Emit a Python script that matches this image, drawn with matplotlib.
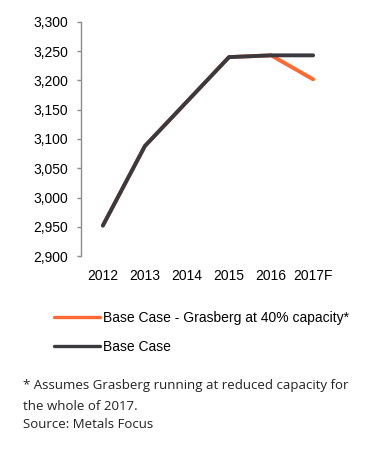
import matplotlib
matplotlib.use('Agg')
import matplotlib.pyplot as plt

years = ['2012', '2013', '2014', '2015', '2016', '2017F']
base_case = [2952, 3088, 3164, 3240, 3243, 3243]
grasberg_case = [2952, 3088, 3164, 3240, 3243, 3202]

orange = '#FF6A33'
dark = '#3A3940'

plt.rcParams['font.family'] = ['Liberation Sans', 'DejaVu Sans']

fig = plt.figure(figsize=(3.67, 4.54), dpi=100)
ax = fig.add_axes([81/367, (454-256)/454, 254/367, 234/454])

x = list(range(len(years)))
ax.plot(x, grasberg_case, color=orange, linewidth=2.8, solid_capstyle='round',
        label='Base Case - Grasberg at 40% capacity*')
ax.plot(x, base_case, color=dark, linewidth=2.8, solid_capstyle='round',
        label='Base Case')

ax.set_xlim(-0.52, 5.52)
ax.set_ylim(2900, 3300)
ax.set_yticks(range(2900, 3301, 50))
ax.set_yticklabels(['{:,}'.format(v) for v in range(2900, 3301, 50)])
ax.set_xticks(x)
ax.set_xticklabels(years)

for s in ['top', 'right', 'bottom']:
    ax.spines[s].set_visible(False)
ax.spines['left'].set_color('#8c8c8c')
ax.spines['left'].set_linewidth(1.0)
ax.tick_params(axis='y', length=3, width=1, color='#8c8c8c', labelsize=10, pad=6)
ax.tick_params(axis='x', length=0, labelsize=10, pad=9)

leg = fig.legend(loc='upper left', bbox_to_anchor=(54/367, 1-311/454), frameon=False,
                 fontsize=10, handlelength=3.3, handletextpad=0.2, labelspacing=1.05,
                 borderaxespad=0, borderpad=0)
for line in leg.get_lines():
    line.set_linewidth(2.4)

note_font = ['Open Sans', 'DejaVu Sans']
fig.text(23/367, 1-386/454, '* Assumes Grasberg running at reduced capacity for',
         fontsize=9.5, family=note_font, va='center', color='#222222')
fig.text(23/367, 1-406/454, 'the whole of 2017.',
         fontsize=9.5, family=note_font, va='center', color='#222222')
fig.text(23/367, 1-425/454, 'Source: Metals Focus',
         fontsize=9.5, family=note_font, va='center', color='#222222')

fig.savefig('out.png', dpi=100)
